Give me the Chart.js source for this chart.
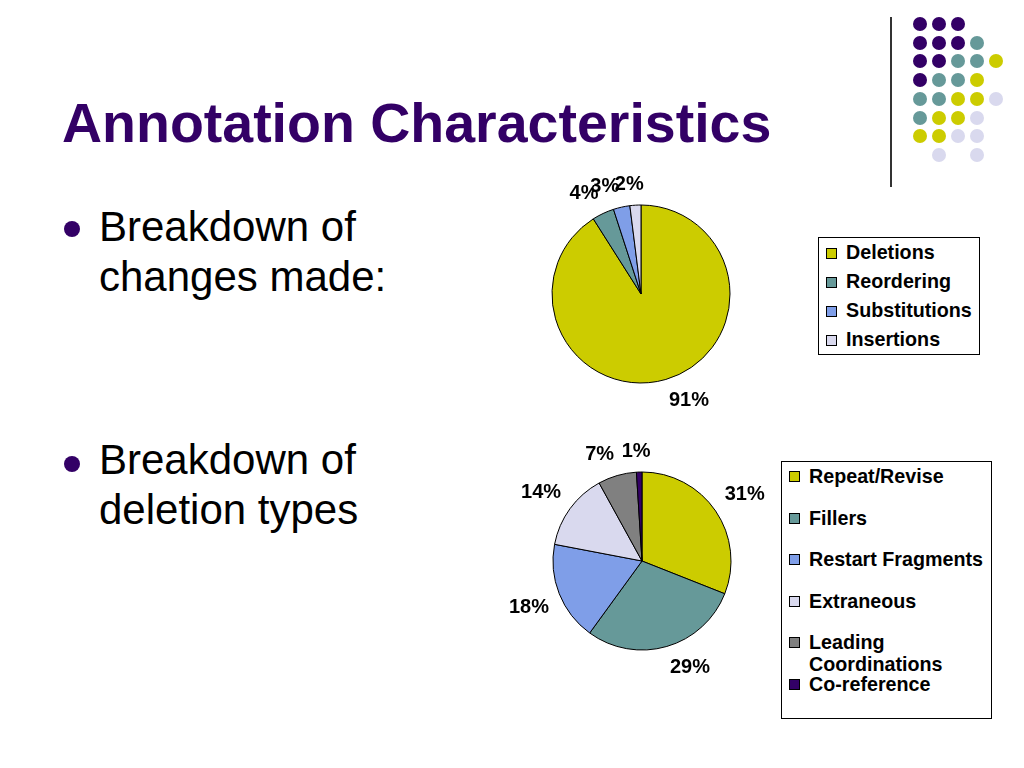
<!DOCTYPE html>
<html>
<head>
<meta charset="utf-8">
<script src="https://cdn.jsdelivr.net/npm/chart.js@4/dist/chart.umd.min.js"></script>
<style>
  body {
    margin: 0;
    width: 1024px;
    height: 768px;
    background: #fff;
    position: relative;
    overflow: hidden;
    font-family: 'Liberation Sans', Arial, sans-serif;
  }
  #title {
    position: absolute;
    left: 62px;
    top: 95px;
    font-size: 55.5px;
    line-height: 56px;
    font-weight: bold;
    color: #330066;
    white-space: nowrap;
  }
  .bullet {
    position: absolute;
    left: 99px;
    font-size: 42px;
    line-height: 50px;
    color: #000;
  }
  .dot {
    position: absolute;
    border-radius: 50%;
  }
  .chartBox {
    position: absolute;
    width: 320px;
    height: 300px;
  }
  .legend {
    position: absolute;
    border: 1px solid #000;
    background: #fff;
    font-size: 19.7px;
    font-weight: bold;
    box-sizing: border-box;
  }
  .legend .item {
    position: relative;
    padding-left: 27px;
  }
  .legend .swatch {
    position: absolute;
    left: 7px;
    width: 9px;
    height: 9px;
    border: 1px solid #000;
  }
  #vline {
    position: absolute;
    left: 890px;
    top: 17px;
    width: 2px;
    height: 170px;
    background: #333;
  }
</style>
</head>
<body>
<div id="title">Annotation Characteristics</div>
<div class="bullet" style="top: 202px">Breakdown of<br>changes made:</div>
<div class="bullet" style="top: 435px">Breakdown of<br>deletion types</div>
<div class="dot" style="left: 64px; top: 221px; width: 16px; height: 16px; background: #330066"></div>
<div class="dot" style="left: 64px; top: 456px; width: 16px; height: 16px; background: #330066"></div>
<div id="vline"></div>
<div id="dots"></div>

<div class="chartBox" style="left: 481px; top: 144px"><canvas id="changes" width="320" height="300"></canvas></div>
<div class="chartBox" style="left: 482px; top: 411px"><canvas id="deletions" width="320" height="300"></canvas></div>

<div id="legendChanges" class="legend" style="left: 818px; top: 237px; width: 162px; height: 118px; white-space: nowrap"></div>
<div id="legendDeletions" class="legend" style="left: 781px; top: 461px; width: 211px; height: 258px; padding-top: 3px"></div>

<script>
const changeLabels = ['Deletions', 'Reordering', 'Substitutions', 'Insertions']
const changeValues = [91, 4, 3, 2]

const deletionLabels = ['Repeat/Revise', 'Fillers', 'Restart Fragments', 'Extraneous', 'Leading Coordinations', 'Co-reference']
const deletionValues = [31, 29, 18, 14, 7, 1]

const yellow = '#CCCC00'
const teal = '#669999'
const blue = '#7F9EE8'
const lavender = '#D9D9EE'
const grey = '#808080'
const purple = '#330066'

// corner decoration
const dotRows = ['PPP..', 'PPPT.', 'PPTTY', 'PTTY.', 'TTYYL', 'TYYL.', 'YYLL.', '.L.L.']
const dotColors = { P: purple, T: teal, Y: yellow, L: lavender }
const dotsEl = document.getElementById('dots')
dotRows.forEach((row, r) => {
  row.split('').forEach((c, col) => {
    if (c === '.') return
    const d = document.createElement('div')
    d.className = 'dot'
    d.style.left = (913 + col * 19) + 'px'
    d.style.top = (17 + r * 18.7) + 'px'
    d.style.width = '14px'
    d.style.height = '14px'
    d.style.background = dotColors[c]
    dotsEl.appendChild(d)
  })
})

Chart.defaults.font.family = "'Liberation Sans', Arial, sans-serif"

const clamp1 = v => Math.max(-1, Math.min(1, v))

// percent labels just outside each slice, pushed out by half the text box
const pctLabels = {
  id: 'pctLabels',
  afterDatasetsDraw(chart) {
    const ctx = chart.ctx
    const meta = chart.getDatasetMeta(0)
    const values = chart.data.datasets[0].data
    ctx.save()
    ctx.font = "bold 20px 'Liberation Sans', Arial, sans-serif"
    ctx.fillStyle = '#000'
    ctx.textAlign = 'center'
    ctx.textBaseline = 'middle'
    meta.data.forEach((arc, i) => {
      const p = arc.getProps(['x', 'y', 'startAngle', 'endAngle', 'outerRadius'], true)
      const mid = (p.startAngle + p.endAngle) / 2
      const ux = Math.cos(mid)
      const uy = Math.sin(mid)
      const text = values[i] + '%'
      const w = ctx.measureText(text).width
      const d = p.outerRadius + 11
      const x = p.x + ux * d + clamp1(ux * 6) * w / 2
      const y = p.y + uy * d + clamp1(uy * 3) * 10
      ctx.fillText(text, x, y)
    })
    ctx.restore()
  }
}

function buildLegend(chart, el, rowHeight, lineHeight) {
  const items = chart.options.plugins.legend.labels.generateLabels(chart)
  items.forEach(item => {
    const row = document.createElement('div')
    row.className = 'item'
    row.style.height = rowHeight + 'px'
    row.style.lineHeight = lineHeight + 'px'
    const sw = document.createElement('span')
    sw.className = 'swatch'
    sw.style.background = item.fillStyle
    sw.style.top = (lineHeight / 2 - 5) + 'px'
    row.appendChild(sw)
    row.appendChild(document.createTextNode(item.text))
    el.appendChild(row)
  })
}

function makePie(id, labels, values, colors) {
  return new Chart(document.getElementById(id), {
    type: 'pie',
    data: {
      labels: labels,
      datasets: [
        {
          data: values,
          backgroundColor: colors,
          borderColor: '#000',
          borderWidth: 1,
          radius: 89
        }
      ]
    },
    options: {
      responsive: false,
      animation: false,
      plugins: {
        legend: { display: false },
        tooltip: { enabled: false }
      }
    },
    plugins: [pctLabels]
  })
}

const changesChart = makePie('changes', changeLabels, changeValues, [yellow, teal, blue, lavender])
const deletionsChart = makePie('deletions', deletionLabels, deletionValues, [yellow, teal, blue, lavender, grey, purple])

buildLegend(changesChart, document.getElementById('legendChanges'), 29, 29)
buildLegend(deletionsChart, document.getElementById('legendDeletions'), 41.6, 22)
</script>
</body>
</html>
